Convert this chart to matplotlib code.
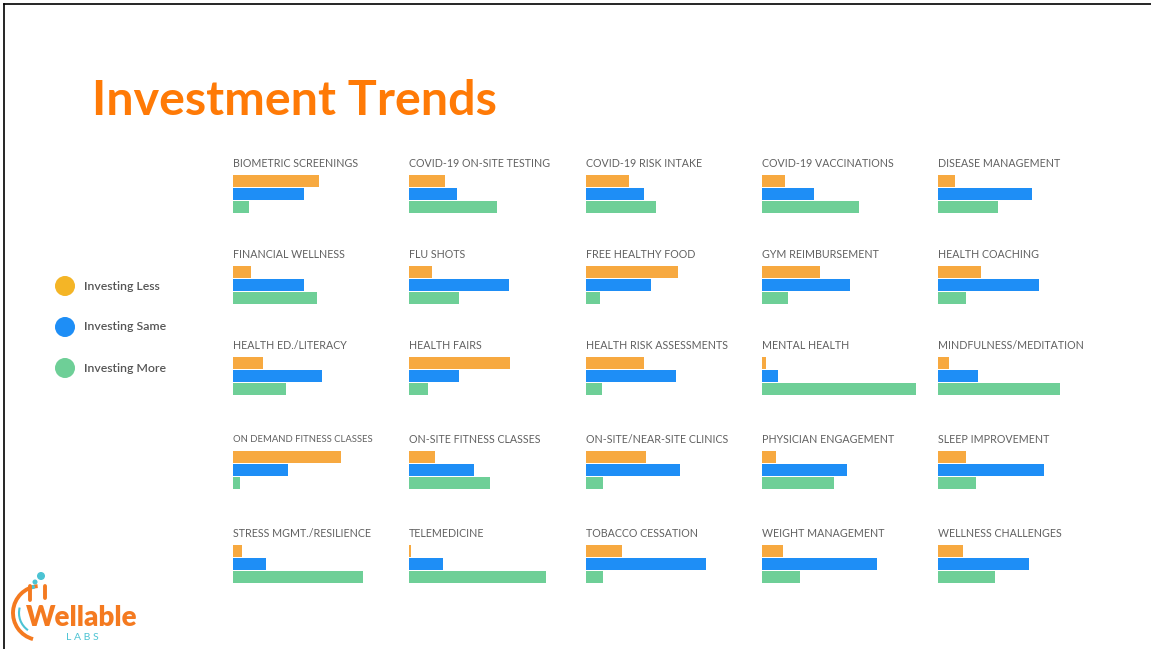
import matplotlib.pyplot as plt
from matplotlib.patches import Circle, Arc

W, H = 1151, 649

categories = [
    "BIOMETRIC SCREENINGS", "COVID-19 ON-SITE TESTING", "COVID-19 RISK INTAKE",
    "COVID-19 VACCINATIONS", "DISEASE MANAGEMENT",
    "FINANCIAL WELLNESS", "FLU SHOTS", "FREE HEALTHY FOOD",
    "GYM REIMBURSEMENT", "HEALTH COACHING",
    "HEALTH ED./LITERACY", "HEALTH FAIRS", "HEALTH RISK ASSESSMENTS",
    "MENTAL HEALTH", "MINDFULNESS/MEDITATION",
    "ON DEMAND FITNESS CLASSES", "ON-SITE FITNESS CLASSES", "ON-SITE/NEAR-SITE CLINICS",
    "PHYSICIAN ENGAGEMENT", "SLEEP IMPROVEMENT",
    "STRESS MGMT./RESILIENCE", "TELEMEDICINE", "TOBACCO CESSATION",
    "WEIGHT MANAGEMENT", "WELLNESS CHALLENGES",
]

# bar lengths (same arbitrary unit for every panel)
investing_less = [86, 36, 43, 23, 17,
                  18, 23, 92, 58, 43,
                  30, 101, 58, 4, 11,
                  108, 26, 60, 14, 28,
                  9, 2, 36, 21, 25]
investing_same = [71, 48, 58, 52, 94,
                  71, 100, 65, 88, 101,
                  89, 50, 90, 16, 40,
                  55, 65, 94, 85, 106,
                  33, 34, 120, 115, 91]
investing_more = [16, 88, 70, 97, 60,
                  84, 50, 14, 26, 28,
                  53, 19, 16, 154, 122,
                  7, 81, 17, 72, 38,
                  130, 137, 17, 38, 57]

series_names = ["Investing Less", "Investing Same", "Investing More"]
bar_colors = ["#F7A940", "#1E8EF6", "#6ECF97"]
dot_colors = ["#F4B526", "#1E8EF6", "#6ECF97"]

col_left = [233, 409, 586, 762, 938]
row_top = [175, 266, 357, 451, 545]


def fx(px):
    return px / W


def fy(py):
    return 1 - py / H


fig = plt.figure(figsize=(W / 100, H / 100), dpi=100)
fig.patch.set_facecolor("white")

# background axes in pixel coordinates for frame, legend and logo
bg = fig.add_axes([0, 0, 1, 1], zorder=-1)
bg.set_xlim(0, W)
bg.set_ylim(H, 0)
bg.axis("off")

# slide frame (left and top edges)
bg.plot([4, 4], [H, 4], color="black", lw=1.2)
bg.plot([4, W], [4, 4], color="black", lw=1.2)

bg.text(92, 115, "Investment Trends", color="#FF7A06", fontsize=34.8,
        fontweight="bold", family="Lato", va="baseline", ha="left")

for i, name in enumerate(categories):
    r, c = divmod(i, 5)
    x0, y0 = col_left[c], row_top[r]
    ax = fig.add_axes([fx(x0), fy(y0 + 38.5), 176 / W, 39 / H])
    vals = [investing_less[i], investing_same[i], investing_more[i]]
    ax.barh([0, 1, 2], vals, height=0.88, color=bar_colors)
    ax.set_xlim(0, 176)
    ax.set_ylim(2.5, -0.5)
    ax.axis("off")
    # this one label is set a bit smaller in the original slide
    fs = 6.8 if name == "ON DEMAND FITNESS CLASSES" else 7.7
    bg.text(x0, y0 - 11.5, name, color="#606060", fontsize=fs,
            family="Lato", va="center", ha="left")

# legend
for k, lab in enumerate(series_names):
    cy = 286 + 41 * k
    bg.add_patch(Circle((65, cy), 9.3, color=dot_colors[k]))
    bg.text(84, cy, lab, color="#555555", fontsize=8.8, fontweight="semibold",
            family="Lato", va="center", ha="left")

# logo
orange, teal = "#F47A20", "#4BC3D3"
bg.add_patch(Arc((40, 613), 54, 54, theta1=105, theta2=265, color=orange, lw=2.8))
bg.plot([30, 30], [586, 600], color=orange, lw=2.8, solid_capstyle="round")
bg.plot([45, 45], [586, 598], color=orange, lw=2.8, solid_capstyle="round")
bg.add_patch(Arc((40, 613), 42, 42, theta1=125, theta2=195, color=teal, lw=1.5))
for bx, by, br in [(41, 576, 3.3), (35, 582, 1.8), (33, 587, 1.3)]:
    bg.add_patch(Circle((bx, by), br, color=teal))
bg.text(82, 626, "Wellable", color=orange, fontsize=20, fontweight="heavy",
        family="Lato", va="baseline", ha="center")
bg.text(82, 637, "L A B S", color=teal, fontsize=7.5, family="Lato",
        va="center", ha="center")

fig.savefig("out.png", dpi=100, facecolor="white")
